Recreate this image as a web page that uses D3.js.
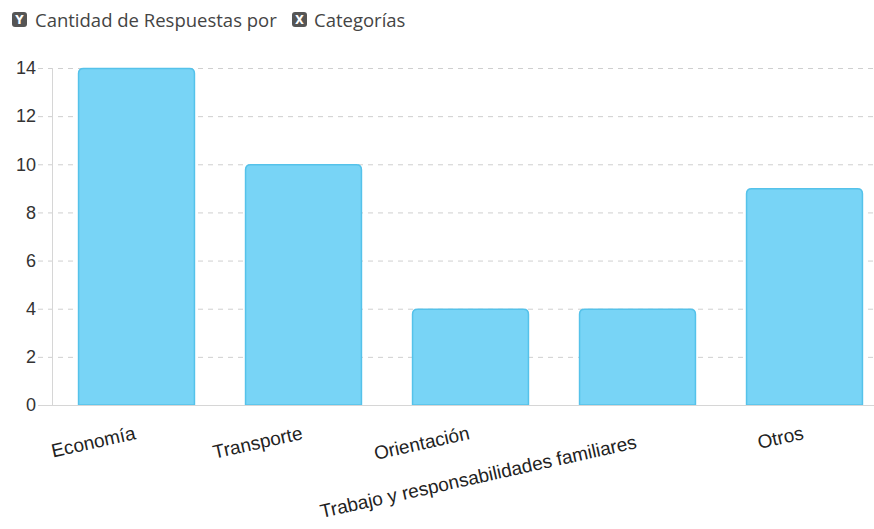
<!DOCTYPE html>
<html><head><meta charset="utf-8">
<script src="https://cdn.jsdelivr.net/npm/d3@7/dist/d3.min.js"></script>
<style>body{margin:0;background:#fff;}svg{display:block;}</style>
</head><body><svg id="c" width="874" height="529"></svg>
<script>
const categories = ["Economía","Transporte","Orientación","Trabajo y responsabilidades familiares","Otros"];
const values = [14,10,4,4,9];
const yTicks = [0,2,4,6,8,10,12,14];
const titleParts = ["Cantidad de Respuestas por","Categorías"];

const svg = d3.select("#c");
const W = 874, H = 529;
const x = d3.scaleBand().domain(categories).range([53, 888]).paddingInner(0.3).paddingOuter(0.15);
const y = d3.scaleLinear().domain([0,14]).range([405, 68]);

// grid
svg.append("g").selectAll("line").data(yTicks.filter(d=>d>0)).join("line")
  .attr("x1",38).attr("x2",W).attr("y1",d=>y(d)+0.5).attr("y2",d=>y(d)+0.5)
  .attr("stroke","#cfcfcf").attr("stroke-dasharray","5,5");
// y axis line
svg.append("line").attr("x1",52.5).attr("x2",52.5).attr("y1",68).attr("y2",405)
  .attr("stroke","#d6d6d6");
svg.append("line").attr("x1",38).attr("x2",53).attr("y1",y(0)+0.5).attr("y2",y(0)+0.5).attr("stroke","#d6d6d6");
// tick labels
svg.append("g").selectAll("text").data(yTicks).join("text")
  .attr("x",36).attr("y",d=>y(d)).attr("dy","0.35em").attr("text-anchor","end")
  .attr("font-family","Liberation Sans, Arial, sans-serif").attr("font-size",18).attr("fill","#333")
  .text(d=>d);

// bars
const r = 5;
function barPath(x0,y0,w,h){
  return `M${x0},${y0+h}V${y0+r}Q${x0},${y0} ${x0+r},${y0}H${x0+w-r}Q${x0+w},${y0} ${x0+w},${y0+r}V${y0+h}Z`;
}
svg.append("g").selectAll("path").data(categories).join("path")
  .attr("d",(d,i)=>barPath(x(d)+0.5, y(values[i])+0.5, x.bandwidth()-1, y(0)-y(values[i])-0.5))
  .attr("fill","#78d4f6").attr("stroke","#55c2ea").attr("stroke-width",1.5);

// baseline
svg.append("line").attr("x1",53).attr("x2",W).attr("y1",y(0)+0.5).attr("y2",y(0)+0.5).attr("stroke","#d6d6d6");

// x labels
svg.append("g").selectAll("text").data(categories).join("text")
  .attr("transform",(d,i)=>`translate(${x(d)+x.bandwidth()/2},${i===3?448:439}) rotate(-12.5)`)
  .attr("text-anchor","end")
  .attr("font-family","Liberation Sans, Arial, sans-serif").attr("font-size",19).attr("fill","#222")
  .text(d=>d);

// title
const tg = svg.append("g");
function icon(xp, letter){
  tg.append("rect").attr("x",xp).attr("y",12).attr("width",15).attr("height",15).attr("rx",3).attr("fill","#555");
  tg.append("text").attr("x",xp+7.5).attr("y",24).attr("text-anchor","middle")
    .attr("font-family","DejaVu Sans, sans-serif").attr("font-weight","bold").attr("font-size",11.5).attr("fill","#fff").text(letter);
}
icon(12,"Y");
tg.append("text").attr("x",35).attr("y",26.5).attr("font-family","Open Sans, sans-serif")
  .attr("font-size",18.5).attr("fill","#444").text(titleParts[0]);
icon(292,"X");
tg.append("text").attr("x",314).attr("y",26.5).attr("font-family","Open Sans, sans-serif")
  .attr("font-size",18.5).attr("fill","#444").text(titleParts[1]);
</script></body></html>
